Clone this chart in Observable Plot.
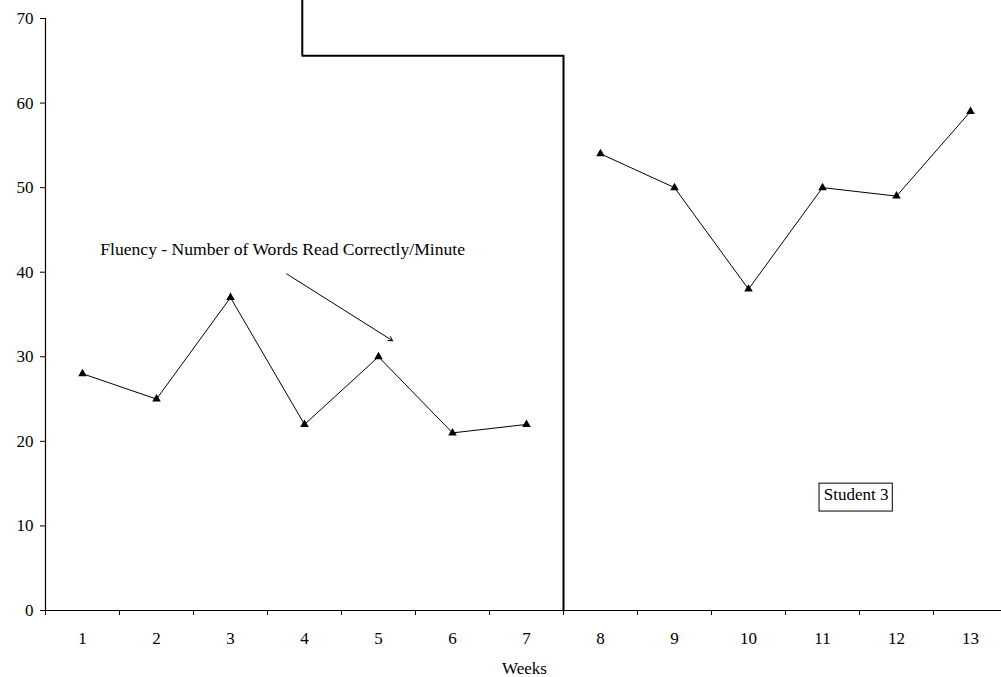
<!DOCTYPE html>
<html>
<head>
<meta charset="utf-8">
<script src="https://cdn.jsdelivr.net/npm/d3@7"></script>
<script src="https://cdn.jsdelivr.net/npm/@observablehq/plot@0.6"></script>
<style>
  html, body { margin: 0; padding: 0; background: #fff; }
  #chart svg { display: block; }
</style>
</head>
<body>
<div id="chart"></div>
<script>
// Data
const weeks = [1, 2, 3, 4, 5, 6, 7, 8, 9, 10, 11, 12, 13];
const fluency = [28, 25, 37, 22, 30, 21, 22, 54, 50, 38, 50, 49, 59];
const phase = ["A", "A", "A", "A", "A", "A", "A", "B", "B", "B", "B", "B", "B"];
const yTicks = [0, 10, 20, 30, 40, 50, 60, 70];
const weekBoundaries = [0.5, 1.5, 2.5, 3.5, 4.5, 5.5, 6.5, 7.5, 8.5, 9.5, 10.5, 11.5, 12.5, 13.5];
const phaseLineX = [7.5, 7.5, 3.97, 3.97];
const phaseLineY = [0, 65.6, 65.6, 72.3];
const annotationText = "Fluency - Number of Words Read Correctly/Minute";
const annotationPos = {x: 1.24, y: 42.7};
const arrowFrom = {x: 3.76, y: 39.8};
const arrowTo = {x: 5.19, y: 31.9};
const studentLabel = "Student 3";
const studentBox = {x1: 10.96, x2: 11.95, y1: 11.7, y2: 15.0};

const rows = weeks.map((w, i) => ({week: w, value: fluency[i], phase: phase[i]}));
const phasePath = phaseLineX.map((x, i) => ({x, y: phaseLineY[i]}));

const font = "Liberation Serif, Times New Roman, serif";

const chart = Plot.plot({
  width: 1001,
  height: 677,
  marginLeft: 45,
  marginRight: -6,
  marginTop: 18,
  marginBottom: 67,
  style: {fontFamily: font, fontSize: "17px", color: "#000", background: "#fff"},
  x: {type: "linear", domain: [0.5, 13.5]},
  y: {domain: [0, 70]},
  marks: [
    // axes
    Plot.axisY({ticks: yTicks, tickSize: 5, tickPadding: 7, label: null, fontSize: 17}),
    Plot.axisX({ticks: weekBoundaries, tickSize: 5, tickFormat: () => "", label: null}),
    Plot.axisX({ticks: weeks, tickSize: 0, tickPadding: 21, tickFormat: d => String(d), label: null, fontSize: 17}),
    Plot.ruleX([0.5], {y1: 0, y2: 70, stroke: "#000", strokeWidth: 1.2}),
    Plot.ruleY([0], {stroke: "#000", strokeWidth: 1.2}),
    Plot.text(["Weeks"], {frameAnchor: "bottom", dy: 63.5, dx: -2, fontSize: 17, fill: "#000"}),
    // phase change line
    Plot.line(phasePath, {x: "x", y: "y", stroke: "#000", strokeWidth: 2, curve: "linear"}),
    // data
    Plot.line(rows, {x: "week", y: "value", z: "phase", stroke: "#000", strokeWidth: 1}),
    Plot.dot(rows, {x: "week", y: "value", symbol: "triangle", r: 3.2, fill: "#000", stroke: "none"}),
    // annotation
    Plot.text([annotationPos], {x: "x", y: "y", text: () => annotationText, textAnchor: "start", fontSize: 17.6, fill: "#000"}),
    Plot.arrow([{x1: arrowFrom.x, y1: arrowFrom.y, x2: arrowTo.x, y2: arrowTo.y}], {x1: "x1", y1: "y1", x2: "x2", y2: "y2", stroke: "#000", strokeWidth: 1, headLength: 7}),
    // student box
    Plot.rect([studentBox], {x1: "x1", x2: "x2", y1: "y1", y2: "y2", fill: "#fff", stroke: "#000", strokeWidth: 1}),
    Plot.text([studentBox], {x: d => (d.x1 + d.x2) / 2, y: d => (d.y1 + d.y2) / 2, dy: -3, text: () => studentLabel, fontSize: 17, fill: "#000"})
  ]
});

document.getElementById("chart").appendChild(chart);
</script>
</body>
</html>
